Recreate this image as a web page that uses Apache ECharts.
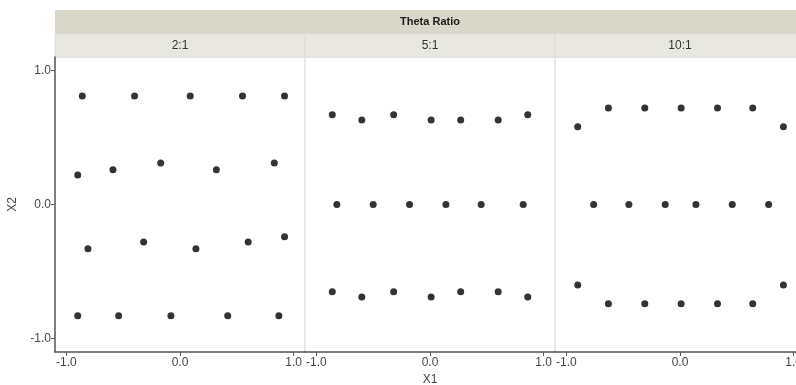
<!DOCTYPE html>
<html>
<head>
<meta charset="utf-8">
<script src="https://cdn.jsdelivr.net/npm/echarts@6/dist/echarts.min.js"></script>
<style>
  html, body { margin: 0; padding: 0; background: #fff; }
  #chart { width: 796px; height: 385px; }
</style>
</head>
<body>
<div id="chart"></div>
<script>
const stripTitle = 'Theta Ratio';
const panelLabels = ['2:1', '5:1', '10:1'];
const tickValues = [-1, 0, 1];

// 2:1
const points21 = [
  [-0.86, 0.81], [-0.40, 0.81], [0.09, 0.81], [0.55, 0.81], [0.92, 0.81],
  [-0.90, 0.22], [-0.59, 0.26], [-0.17, 0.31], [0.32, 0.26], [0.83, 0.31],
  [-0.81, -0.33], [-0.32, -0.28], [0.14, -0.33], [0.60, -0.28], [0.92, -0.24],
  [-0.90, -0.83], [-0.54, -0.83], [-0.08, -0.83], [0.42, -0.83], [0.87, -0.83]
];
// 5:1
const points51 = [
  [-0.86, 0.67], [-0.60, 0.63], [-0.32, 0.67], [0.01, 0.63], [0.27, 0.63], [0.60, 0.63], [0.86, 0.67],
  [-0.82, 0.0], [-0.50, 0.0], [-0.18, 0.0], [0.14, 0.0], [0.45, 0.0], [0.82, 0.0],
  [-0.86, -0.65], [-0.60, -0.69], [-0.32, -0.65], [0.01, -0.69], [0.27, -0.65], [0.60, -0.65], [0.86, -0.69]
];
// 10:1
const points101 = [
  [-0.90, 0.58], [-0.63, 0.72], [-0.31, 0.72], [0.01, 0.72], [0.33, 0.72], [0.64, 0.72], [0.91, 0.58],
  [-0.76, 0.0], [-0.45, 0.0], [-0.13, 0.0], [0.14, 0.0], [0.46, 0.0], [0.78, 0.0],
  [-0.90, -0.60], [-0.63, -0.74], [-0.31, -0.74], [0.01, -0.74], [0.33, -0.74], [0.64, -0.74], [0.91, -0.60]
];
const panelData = [points21, points51, points101];

const chart = echarts.init(document.getElementById('chart'));

const font = 'Liberation Sans, Arial, sans-serif';
const plotLeft = 55, plotTop = 57, panelW = 250, plotH = 295;
const axisColor = '#5a5a5a';

const grids = [], xAxes = [], yAxes = [], series = [];
panelData.forEach((pts, i) => {
  grids.push({
    left: plotLeft + i * panelW, top: plotTop, width: panelW, height: plotH,
    outerBoundsMode: 'none', containLabel: false,
    show: true, backgroundColor: '#fff', borderColor: '#dcdcdc', borderWidth: 1
  });
  xAxes.push({
    gridIndex: i, type: 'value', min: -1.1, max: 1.1,
    name: i === 1 ? 'X1' : '', nameLocation: 'middle', nameGap: 21,
    nameTextStyle: { color: '#444', fontSize: 12, fontFamily: font },
    axisLine: { show: true, onZero: false, lineStyle: { color: axisColor, width: 1.5 } },
    axisTick: { show: true, length: 4, customValues: tickValues, lineStyle: { color: axisColor } },
    axisLabel: { customValues: tickValues, color: '#444', fontSize: 12, fontFamily: font, margin: 5,
      formatter: v => v.toFixed(1) },
    splitLine: { show: false }
  });
  yAxes.push({
    gridIndex: i, type: 'value', min: -1.1, max: 1.1,
    name: i === 0 ? 'X2' : '', nameLocation: 'middle', nameGap: 36,
    nameTextStyle: { color: '#444', fontSize: 12, fontFamily: font },
    axisLine: { show: i === 0, onZero: false, lineStyle: { color: axisColor, width: 1.5 } },
    axisTick: { show: i === 0, length: 4, customValues: tickValues, lineStyle: { color: axisColor } },
    axisLabel: { show: i === 0, customValues: tickValues, color: '#444', fontSize: 12, fontFamily: font, margin: 4,
      formatter: v => v.toFixed(1) },
    splitLine: { show: false }
  });
  series.push({
    type: 'scatter', xAxisIndex: i, yAxisIndex: i, data: pts,
    symbolSize: 7, itemStyle: { color: '#000' }, silent: true
  });
});

const graphics = [
  { type: 'rect', shape: { x: plotLeft, y: 10, width: panelW * 3, height: 24 },
    style: { fill: '#d9d7ca' } },
  { type: 'text', x: plotLeft + panelW * 1.5, y: 22,
    style: { text: stripTitle, fill: '#1a1a1a', font: 'bold 11px ' + font, align: 'center', verticalAlign: 'middle' } }
];
panelLabels.forEach((lab, i) => {
  graphics.push({ type: 'rect', shape: { x: plotLeft + i * panelW, y: 34, width: panelW, height: 23 },
    style: { fill: '#e9e8e0', stroke: '#dcdcd4', lineWidth: 1 } });
  graphics.push({ type: 'text', x: plotLeft + i * panelW + 125, y: 46,
    style: { text: lab, fill: '#333', font: '12px ' + font, align: 'center', verticalAlign: 'middle' } });
});

chart.setOption({
  animation: false,
  grid: grids,
  xAxis: xAxes,
  yAxis: yAxes,
  series: series,
  graphic: graphics
});
</script>
</body>
</html>
